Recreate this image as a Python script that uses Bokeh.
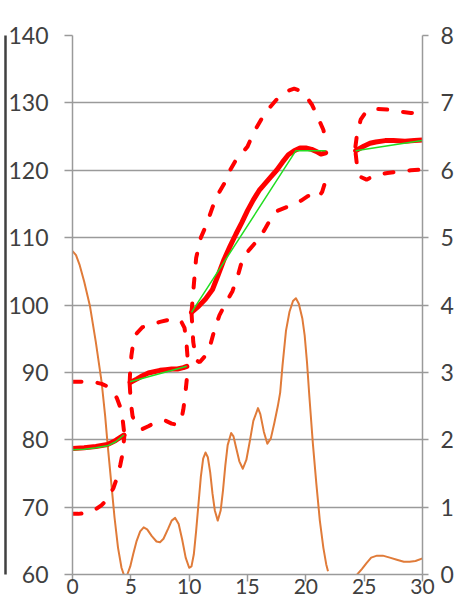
from bokeh.plotting import figure
from bokeh.models import Range1d, LinearAxis, FixedTicker
from bokeh.embed import file_html
from bokeh.resources import INLINE

nan = float("nan")

# ---- data ----
# green mean line, per segment
mean_x1 = [0.0, 1.0, 2.0, 3.0, 3.7, 4.4]
mean_y1 = [78.5, 78.6, 78.8, 79.1, 79.7, 80.7]
mean_x2 = [4.94, 9.8]
mean_y2 = [88.6, 90.9]
mean_x3 = [10.2, 19.15, 21.7]
mean_y3 = [98.9, 122.9, 122.9]
mean_x4 = [24.27, 29.95]
mean_y4 = [122.9, 124.4]

# red smoothed line, per segment
fit_x1 = [0.0, 1.0, 2.0, 3.0, 3.7, 4.4]
fit_y1 = [78.7, 78.8, 79.0, 79.3, 79.9, 80.7]
fit_x2 = [4.94, 5.5, 6.0, 6.5, 7.0, 7.5, 8.0, 8.5, 9.0, 9.5, 9.8]
fit_y2 = [88.5, 89.0, 89.5, 89.9, 90.1, 90.3, 90.4, 90.5, 90.5, 90.7, 90.9]
fit_x3 = [10.2, 10.8, 11.4, 12.0, 12.5, 13.0, 13.5, 14.0, 14.5, 15.0, 15.5, 16.0,
          16.5, 17.0, 17.5, 18.0, 18.5, 19.0, 19.5, 20.0, 20.5, 21.0, 21.3, 21.7]
fit_y3 = [98.9, 99.8, 100.9, 102.3, 104.5, 106.8, 108.7, 110.5, 112.2, 114.0, 115.6, 117.0,
          118.0, 119.0, 120.0, 121.2, 122.3, 122.9, 123.3, 123.3, 123.1, 122.7, 122.4, 122.6]
fit_x4 = [24.27, 25.0, 25.5, 26.0, 26.8, 27.5, 28.5, 29.3, 30.0]
fit_y4 = [122.9, 123.6, 124.0, 124.2, 124.4, 124.4, 124.3, 124.4, 124.5]

# red dashed upper bound
up_x1 = [0.0, 0.5, 1.0, 1.5, 2.0, 2.5, 3.0, 3.4, 3.8, 4.1, 4.3, 4.45]
up_y1 = [88.6, 88.6, 88.6, 88.6, 88.5, 88.3, 87.9, 87.3, 86.2, 84.8, 83.0, 80.7]
up_x2 = [4.9, 4.95, 5.05, 5.2, 5.5, 6.0, 6.5, 7.0, 7.5, 8.0, 8.5, 9.0, 9.3, 9.6, 9.75, 9.85, 9.9]
up_y2 = [88.5, 90.5, 92.5, 94.3, 95.8, 96.7, 97.0, 97.2, 97.5, 97.7, 97.9, 97.9, 97.6, 96.6, 94.8, 92.5, 90.9]
up_x3 = [10.2, 10.4, 10.6, 11.0, 11.5, 12.0, 12.5, 13.0, 13.5, 14.0, 14.5, 15.0, 15.5, 16.0,
         16.5, 17.0, 17.5, 18.0, 18.5, 19.0, 19.5, 20.0, 20.5, 21.0, 21.5, 21.85]
up_y3 = [98.9, 103.0, 107.0, 110.0, 112.0, 114.5, 116.5, 118.0, 120.0, 121.5, 122.5, 123.5, 125.5, 127.0,
         128.5, 129.5, 130.5, 131.3, 131.8, 132.1, 131.8, 131.0, 129.8, 128.0, 126.0, 123.5]
up_x4 = [24.25, 24.4, 24.7, 25.2, 26.0, 27.0, 28.0, 29.0, 30.0]
up_y4 = [123.5, 125.5, 127.5, 128.8, 129.1, 129.0, 128.7, 128.5, 128.6]

# red dashed lower bound
lo_x1 = [0.0, 0.5, 1.0, 1.5, 2.0, 2.5, 3.0, 3.5, 3.8, 4.1, 4.3, 4.45]
lo_y1 = [69.0, 69.0, 69.1, 69.3, 69.7, 70.3, 71.2, 72.8, 74.3, 76.3, 78.0, 80.7]
lo_x2 = [4.9, 5.0, 5.15, 5.5, 6.0, 6.5, 7.0, 7.5, 8.0, 8.5, 9.0, 9.3, 9.5, 9.65, 9.8, 9.85]
lo_y2 = [88.3, 85.5, 83.5, 82.0, 81.6, 82.0, 82.5, 82.8, 82.8, 82.4, 82.2, 82.8, 84.5, 86.5, 89.0, 90.9]
lo_x3 = [10.2, 10.35, 10.6, 10.9, 11.3, 11.8, 12.2, 12.6, 13.2, 13.7, 14.2, 14.6, 15.2, 15.8,
         16.4, 17.0, 17.6, 18.3, 19.0, 19.6, 20.2, 20.6, 21.0, 21.4, 21.8]
lo_y3 = [98.9, 94.5, 91.8, 91.5, 92.3, 94.0, 96.5, 98.5, 100.5, 102.0, 104.5, 107.0, 108.3, 109.5,
         111.0, 112.8, 114.0, 114.5, 114.9, 115.5, 116.2, 116.0, 115.8, 116.8, 119.0]
lo_x4 = [24.27, 24.4, 24.7, 25.2, 26.0, 27.0, 28.0, 29.0, 30.0]
lo_y4 = [122.5, 120.5, 119.0, 118.6, 119.3, 119.6, 119.8, 120.0, 120.1]

# orange series on the right axis
or_x = [0.0, 0.3, 0.6, 1.0, 1.5, 2.0, 2.5, 2.8, 3.0, 3.3, 3.6, 3.9, 4.2, 4.45, 4.7, 4.95,
        5.2, 5.5, 5.8, 6.1, 6.4, 6.8, 7.2, 7.5, 7.8, 8.2, 8.5, 8.8, 9.1, 9.4, 9.7, 10.0,
        10.2, 10.4, 10.6, 10.8, 11.0, 11.2, 11.4, 11.6, 11.8, 12.0, 12.2, 12.45, 12.7, 12.9,
        13.1, 13.3, 13.6, 13.8, 14.0, 14.3, 14.6, 14.9, 15.2, 15.5, 15.9, 16.1, 16.4, 16.7,
        17.0, 17.3, 17.6, 17.8, 18.0, 18.3, 18.6, 18.9, 19.15, 19.4, 19.7, 19.9, 20.1, 20.3,
        20.6, 20.9, 21.2, 21.5, 21.75, 21.9, nan,
        24.4, 24.8, 25.2, 25.6, 26.1, 26.6, 27.2, 27.8, 28.4, 28.9, 29.4, 30.0]
or_y = [4.80, 4.74, 4.60, 4.35, 3.98, 3.45, 2.85, 2.35, 1.95, 1.40, 0.85, 0.40, 0.10, -0.03, 0.0, 0.12,
        0.30, 0.50, 0.64, 0.70, 0.67, 0.57, 0.49, 0.48, 0.53, 0.68, 0.80, 0.84, 0.75, 0.52, 0.25, 0.10,
        0.12, 0.30, 0.65, 1.05, 1.45, 1.72, 1.81, 1.74, 1.52, 1.20, 0.95, 0.80, 0.95, 1.25,
        1.62, 1.92, 2.10, 2.05, 1.90, 1.68, 1.57, 1.70, 1.98, 2.28, 2.47, 2.38, 2.12, 1.94,
        2.02, 2.25, 2.50, 2.70, 3.10, 3.62, 3.90, 4.06, 4.10, 4.02, 3.80, 3.55, 3.15, 2.65,
        1.95, 1.35, 0.80, 0.40, 0.15, 0.05, nan,
        0.0, 0.08, 0.17, 0.25, 0.28, 0.28, 0.25, 0.22, 0.19, 0.19, 0.20, 0.24]

left_ticks = [60, 70, 80, 90, 100, 110, 120, 130, 140]
right_ticks = [0, 1, 2, 3, 4, 5, 6, 7, 8]
x_ticks = [0, 5, 10, 15, 20, 25, 30]

# ---- figure ----
p = figure(width=456, height=597, output_backend="svg", toolbar_location=None,
           x_range=Range1d(0, 30), y_range=Range1d(60, 140),
           min_border_left=72, min_border_right=32, min_border_top=35, min_border_bottom=23)
p.extra_y_ranges = {"right": Range1d(0, 8)}
p.outline_line_color = None
p.background_fill_color = "white"
p.border_fill_color = "white"

FONT = "Lato"
LBL = "#404040"
AX = "#9a9a9a"

p.xgrid.grid_line_color = None
p.ygrid.grid_line_color = AX
p.ygrid.grid_line_width = 1.5
p.ygrid.ticker = FixedTicker(ticks=left_ticks)

def style(ax, size="23px"):
    ax.axis_line_color = AX
    ax.axis_line_width = 1.5
    ax.major_tick_line_color = AX
    ax.major_tick_line_width = 1.5
    ax.major_tick_out = 8
    ax.major_tick_in = 0
    ax.minor_tick_line_color = None
    ax.major_label_text_font = FONT
    ax.major_label_text_font_size = size
    ax.major_label_text_color = LBL

p.yaxis.ticker = FixedTicker(ticks=left_ticks)
p.xaxis.ticker = FixedTicker(ticks=x_ticks)
style(p.yaxis[0])
style(p.xaxis[0], "21px")
p.xaxis.major_tick_out = 7
p.xaxis.major_label_standoff = -3
p.yaxis.major_label_standoff = 16

ra = LinearAxis(y_range_name="right", ticker=FixedTicker(ticks=right_ticks))
style(ra)
ra.major_tick_out = 6
ra.major_label_standoff = 12
p.add_layout(ra, "right")

# dark border line at the far left (an empty outer axis)
edge = LinearAxis(ticker=FixedTicker(ticks=[]))
edge.axis_line_color = "#404040"
edge.axis_line_width = 2.5
edge.major_tick_line_color = None
edge.minor_tick_line_color = None
p.add_layout(edge, "left")

# orange line
p.line(or_x, or_y, y_range_name="right", line_color="#E07B39", line_width=2, line_join="round")

dash = dict(line_color="#FF0000", line_width=4, line_dash="9 16", line_cap="round")
for xs, ys in [(up_x1, up_y1), (up_x2, up_y2), (up_x3, up_y3), (up_x4, up_y4),
               (lo_x1, lo_y1), (lo_x2, lo_y2), (lo_x3, lo_y3), (lo_x4, lo_y4)]:
    p.line(xs, ys, **dash)

for xs, ys in [(fit_x1, fit_y1), (fit_x2, fit_y2), (fit_x3, fit_y3), (fit_x4, fit_y4)]:
    p.line(xs, ys, line_color="#FF0000", line_width=5, line_cap="round", line_join="round")

for xs, ys in [(mean_x1, mean_y1), (mean_x2, mean_y2), (mean_x3, mean_y3), (mean_x4, mean_y4)]:
    p.line(xs, ys, line_color="#22DD22", line_width=1.5)

open("out.html", "w").write(file_html(p, INLINE))
